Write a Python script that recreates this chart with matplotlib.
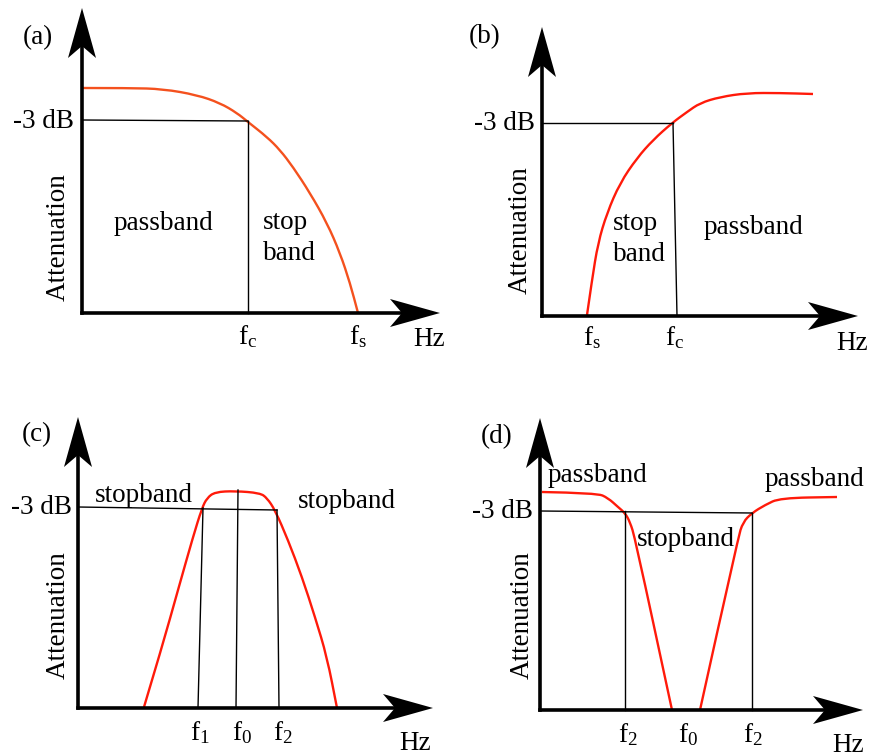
import numpy as np
import matplotlib
matplotlib.use("Agg")
from matplotlib import pyplot as plt
from matplotlib.patches import Polygon, PathPatch
from matplotlib.path import Path

plt.rcParams['font.family'] = ['Liberation Serif', 'DejaVu Serif']
plt.rcParams['mathtext.fontset'] = 'custom'
plt.rcParams['mathtext.rm'] = 'Liberation Serif'
plt.rcParams['mathtext.it'] = 'Liberation Serif:italic'

# curves: frequency (px right of the y axis) vs attenuation (px above the x axis)
lowpass_f = [1, 48, 81, 115, 138, 155, 166, 185, 198, 211, 228, 245, 258, 268, 276]
lowpass_att = [225, 225, 224, 218, 210, 200, 191, 176, 163, 146, 120, 90, 60, 30, 0]

highpass_f = [45, 50, 56, 65, 78, 95, 111, 130, 145, 158, 178, 205, 238, 271]
highpass_att = [1, 36, 73, 103, 133, 158, 176, 193, 204, 213, 219, 223, 223, 222]

bandpass_f = [66, 84, 100, 115, 124, 129, 137, 157, 182, 189, 197, 210, 224, 237, 249, 259]
bandpass_att = [1, 61, 118, 171, 200, 210, 216, 217, 215, 210, 198, 168, 131, 91, 51, 0]

bandstop_left_f = [2, 57, 68, 78, 85, 90, 95, 132]
bandstop_left_att = [218, 217, 212, 203, 197, 188, 172, 0]
bandstop_right_f = [160, 198, 203, 212, 225, 240, 297]
bandstop_right_att = [0, 172, 188, 197, 205, 212, 213]

# -3 dB guide lines and marker frequencies
lowpass_3db = 192
lowpass_fc, lowpass_fs = 166, 276
highpass_3db = 193
highpass_fs, highpass_fc = 50, 133
bandpass_3db = (201, 198)
bandpass_f1, bandpass_f0, bandpass_f2 = 124, 159, 199
bandstop_3db = (199, 197)
bandstop_fa, bandstop_f0, bandstop_fb = 85, 148, 212

W, H = 870, 756
FS = 19.5
fig = plt.figure(figsize=(W / 100, H / 100), dpi=100)


def panel(qx0, qy0, qx1, qy1, ox, oy):
    ax = fig.add_axes([qx0 / W, 1 - qy1 / H, (qx1 - qx0) / W, (qy1 - qy0) / H])
    ax.set_xlim(qx0 - ox, qx1 - ox)
    ax.set_ylim(oy - qy1, oy - qy0)
    ax.axis('off')
    return ax


def axes_arrows(ax, xlen, ylen, L=50, hw=14, notch=12):
    lw = 2.6
    ax.plot([0, xlen - L + notch + 2], [0, 0], color='black', lw=lw, solid_capstyle='projecting')
    ax.plot([0, 0], [0, ylen - L + notch + 2], color='black', lw=lw, solid_capstyle='projecting')
    ax.add_patch(Polygon([(xlen, 0), (xlen - L, hw), (xlen - L + notch, 0), (xlen - L, -hw)],
                         closed=True, color='black', lw=0))
    ax.add_patch(Polygon([(0, ylen), (hw, ylen - L), (0, ylen - L + notch), (-hw, ylen - L)],
                         closed=True, color='black', lw=0))


def smooth_curve(ax, xs, ys, color):
    # quadratic bezier through the read points (points act as control points)
    pts = np.column_stack([xs, ys]).astype(float)
    verts = [pts[0]]
    codes = [Path.MOVETO]
    for i in range(1, len(pts) - 1):
        verts += [pts[i], (pts[i] + pts[i + 1]) / 2]
        codes += [Path.CURVE3, Path.CURVE3]
    verts.append(pts[-1])
    codes.append(Path.LINETO)
    ax.add_patch(PathPatch(Path(verts, codes), facecolor='none', edgecolor=color,
                           lw=1.7, capstyle='butt'))


def common_text(ax, label, lab_xy, db_xy, att_xy, hz_xy):
    ax.text(*lab_xy, label, fontsize=FS, ha='center', va='center')
    ax.text(*db_xy, '-3 dB', fontsize=FS, ha='right', va='center')
    ax.text(*att_xy, 'Attenuation', fontsize=FS, ha='center', va='center', rotation=90)
    ax.text(*hz_xy, 'Hz', fontsize=FS, ha='center', va='center', clip_on=False)


def freq_label(ax, x, y, sub):
    ax.text(x, y, r'f$_\mathrm{' + sub + '}$', fontsize=FS, ha='center', va='center')


thin = dict(color='black', lw=1.0)
orange = '#f4511e'
red = '#ff1a0a'

# (a) low pass
ax = panel(0, 0, 440, 378, 82, 313)
axes_arrows(ax, 358, 305)
ax.plot([0, lowpass_fc], [lowpass_3db + 1, lowpass_3db], **thin)
ax.plot([lowpass_fc, lowpass_fc], [lowpass_3db, 0], **thin)
smooth_curve(ax, lowpass_f, lowpass_att, orange)
common_text(ax, '(a)', (-44, 275), (-8, 192), (-24, 76), (347, -27))
ax.text(81, 90, 'passband', fontsize=FS, ha='center', va='center')
ax.text(181, 75, 'stop\nband', fontsize=FS, ha='left', va='center', linespacing=1.3)
freq_label(ax, lowpass_fc, -24, 'c')
freq_label(ax, lowpass_fs, -24, 's')

# (b) high pass
ax = panel(440, 0, 870, 378, 542, 316)
axes_arrows(ax, 316, 289)
ax.plot([0, highpass_fc - 2], [highpass_3db, highpass_3db], **thin)
ax.plot([highpass_fc - 2, highpass_fc + 2], [highpass_3db, 0], **thin)
smooth_curve(ax, highpass_f, highpass_att, red)
common_text(ax, '(b)', (-57, 279), (-7, 193), (-22, 86), (310, -27))
ax.text(71, 77, 'stop\nband', fontsize=FS, ha='left', va='center', linespacing=1.3)
ax.text(211, 89, 'passband', fontsize=FS, ha='center', va='center')
freq_label(ax, highpass_fs, -22, 's')
freq_label(ax, highpass_fc, -22, 'c')

# (c) band pass
ax = panel(0, 378, 440, 756, 78, 708)
axes_arrows(ax, 355, 291)
ax.plot([0, bandpass_f2], list(bandpass_3db), **thin)
ax.plot([bandpass_f1 + 1, bandpass_f1 - 4], [200, 0], **thin)
ax.plot([bandpass_f0 + 1, bandpass_f0 - 1], [218, 0], **thin)
ax.plot([bandpass_f2, bandpass_f2 + 2], [198, 0], **thin)
smooth_curve(ax, bandpass_f, bandpass_att, red)
common_text(ax, '(c)', (-41, 273), (-6, 201), (-20, 93), (337, -35))
ax.text(17, 213, 'stopband', fontsize=FS, ha='left', va='center')
ax.text(220, 206, 'stopband', fontsize=FS, ha='left', va='center')
freq_label(ax, 122, -25, '1')
freq_label(ax, 164, -25, '0')
freq_label(ax, 205, -25, '2')

# (d) band stop
ax = panel(440, 378, 870, 756, 540, 710)
axes_arrows(ax, 323, 292)
ax.plot([0, bandstop_fb], list(bandstop_3db), **thin)
ax.plot([bandstop_fa, bandstop_fa], [bandstop_3db[0], 0], **thin)
ax.plot([bandstop_fb, bandstop_fb], [bandstop_3db[1], 0], **thin)
smooth_curve(ax, bandstop_left_f, bandstop_left_att, red)
smooth_curve(ax, bandstop_right_f, bandstop_right_att, red)
common_text(ax, '(d)', (-43, 273), (-7, 198), (-18, 95), (308, -35))
ax.text(8, 235, 'passband', fontsize=FS, ha='left', va='center')
ax.text(225, 231, 'passband', fontsize=FS, ha='left', va='center')
ax.text(97, 170, 'stopband', fontsize=FS, ha='left', va='center')
freq_label(ax, 88, -25, '2')
freq_label(ax, bandstop_f0, -25, '0')
freq_label(ax, 213, -25, '2')

fig.savefig('out.png', dpi=100)
